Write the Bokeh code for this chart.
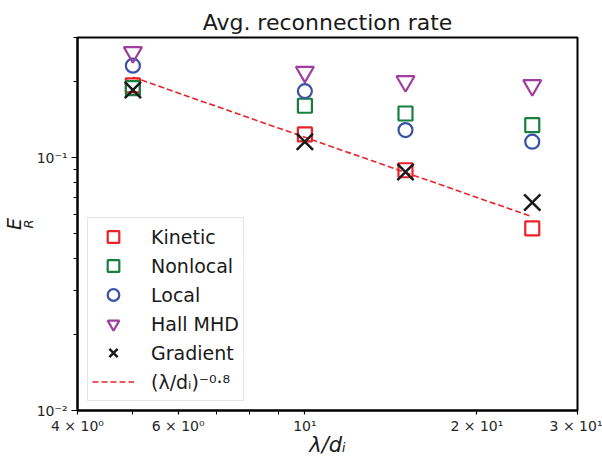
import math
from bokeh.plotting import figure
from bokeh.models import FixedTicker, CustomJSTickFormatter, Legend, LegendItem, Title
from bokeh.embed import file_html
from bokeh.resources import INLINE

# ---- data ----
lam = [5, 10, 15, 25]
kinetic = [0.194, 0.124, 0.0894, 0.0526]
nonlocal_ = [0.189, 0.161, 0.150, 0.135]
local = [0.232, 0.184, 0.129, 0.116]
hall = [0.262, 0.219, 0.201, 0.194]
gradient = [0.186, 0.116, 0.088, 0.0667]
fit_x = [5, 25]
fit_y = [0.209, 0.0585]

x_major = [4, 6, 10, 20, 30]
x_minor = [5, 7, 8, 9]
x_labels = {"4": "4 × 10⁰", "6": "6 × 10⁰", "10": "10¹", "20": "2 × 10¹", "30": "3 × 10¹"}
y_major = [0.01, 0.1]
y_minor = [0.02, 0.03, 0.04, 0.05, 0.06, 0.07, 0.08, 0.09, 0.2, 0.3]
y_labels = {"10": "10⁻²", "100": "10⁻¹"}

RED = "#ea2328"
GREEN = "#17803c"
BLUE = "#3852a6"
PURPLE = "#a03ea0"
BLACK = "#1a1a1a"
FONT = "DejaVu Sans"

p = figure(width=602, height=459, x_axis_type="log", y_axis_type="log",
           x_range=(4, 30), y_range=(0.01, 0.3), output_backend="svg",
           toolbar_location=None, title="Avg. reconnection rate",
           min_border_left=77, min_border_right=25, min_border_top=37,
           min_border_bottom=49)
p.title.text_font = FONT
p.title.text_font_size = "22px"
p.title.text_font_style = "normal"
p.title.align = "center"
p.title.text_color = BLACK
p.title.standoff = 6
p.xgrid.visible = False
p.ygrid.visible = False
p.outline_line_color = "black"
p.outline_line_width = 2
p.outline_line_alpha = 1

for ax in (p.xaxis[0], p.yaxis[0]):
    ax.axis_line_width = 2
    ax.axis_line_color = "black"
    ax.major_tick_line_width = 1.2
    ax.minor_tick_line_width = 1
    ax.major_tick_line_color = "black"
    ax.minor_tick_line_color = "black"
    ax.major_tick_in = 0
    ax.minor_tick_in = 0
    ax.major_label_text_font = FONT
    ax.major_label_text_font_size = "14px"
    ax.major_label_text_color = "#262626"

xa = p.xaxis[0]
xa.ticker = FixedTicker(ticks=x_major, minor_ticks=x_minor)
xa.major_tick_out = 4
xa.minor_tick_out = 4
xa.formatter = CustomJSTickFormatter(args=dict(m=x_labels),
                                     code="return m[String(Math.round(tick))] || '';")
xa.major_label_standoff = 3
xa.axis_label = "λ/dᵢ"
xa.axis_label_text_font = FONT
xa.axis_label_text_font_style = "italic"
xa.axis_label_text_font_size = "21px"
xa.axis_label_text_color = BLACK
xa.axis_label_standoff = -4

ya = p.yaxis[0]
ya.ticker = FixedTicker(ticks=y_major, minor_ticks=y_minor)
ya.major_tick_out = 6
ya.minor_tick_out = 4
ya.formatter = CustomJSTickFormatter(args=dict(m=y_labels),
                                     code="return m[String(Math.round(tick*1000))] || '';")
ya.major_label_standoff = 4

# y-axis label E_R: subscript R next to the axis, then E further out
p.add_layout(Title(text="R", align="center", standoff=-5,
                   text_font=FONT, text_font_style="italic", text_font_size="13px",
                   text_color=BLACK), "left")
p.add_layout(Title(text="E", align="center", standoff=-6,
                   text_font=FONT, text_font_style="italic", text_font_size="19px",
                   text_color=BLACK), "left")

r_fit = p.line(fit_x, fit_y, line_color=RED, line_width=1.6, line_dash="6 3")
r_k = p.scatter(lam, kinetic, marker="square", size=14, fill_color=None,
                line_color=RED, line_width=2.2)
r_n = p.scatter(lam, nonlocal_, marker="square", size=14, fill_color=None,
                line_color=GREEN, line_width=2.2)
r_l = p.scatter(lam, local, marker="circle", size=14, fill_color=None,
                line_color=BLUE, line_width=2.2)
r_h = p.scatter(lam, hall, marker="inverted_triangle", size=18, fill_color=None,
                line_color=PURPLE, line_width=2.2)
r_g = p.scatter(lam, gradient, marker="x", size=23, line_color=BLACK, line_width=2.5)

legend = Legend(items=[
    LegendItem(label="Kinetic", renderers=[r_k]),
    LegendItem(label="Nonlocal", renderers=[r_n]),
    LegendItem(label="Local", renderers=[r_l]),
    LegendItem(label="Hall MHD", renderers=[r_h]),
    LegendItem(label="Gradient", renderers=[r_g]),
    LegendItem(label="(λ/dᵢ)⁻⁰·⁸", renderers=[r_fit]),
], location=(10, 9))
legend.label_text_font = FONT
legend.label_text_font_size = "19px"
legend.label_text_color = BLACK
legend.glyph_width = 42
legend.glyph_height = 29
legend.label_height = 29
legend.spacing = 0
legend.padding = 4
legend.margin = 0
legend.label_standoff = 17
legend.border_line_color = "#cccccc"
legend.border_line_width = 1
legend.background_fill_alpha = 0.85
p.add_layout(legend)

open("out.html", "w").write(file_html(p, INLINE))
